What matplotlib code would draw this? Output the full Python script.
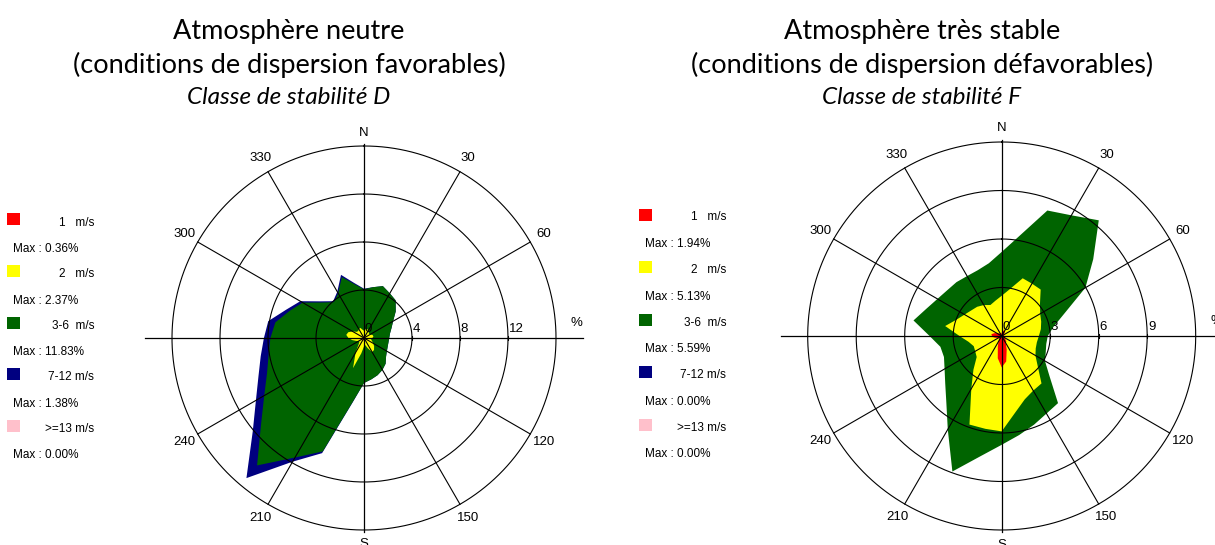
import numpy as np
import matplotlib.pyplot as plt
from matplotlib.patches import Rectangle

# wind directions (degrees from north, clockwise)
dirs = np.arange(0, 360, 10)

# Classe de stabilite D : frequency (%) per speed class and direction
d_1ms = [0.12, 0.12, 0.12, 0.12, 0.12, 0.12, 0.12, 0.12, 0.12, 0.12, 0.12, 0.12,
         0.12, 0.12, 0.12, 0.12, 0.12, 0.12, 0.12, 0.15, 0.30, 0.15, 0.12, 0.12,
         0.12, 0.12, 0.12, 0.12, 0.12, 0.12, 0.12, 0.12, 0.12, 0.12, 0.12, 0.12]
d_2ms = [0.48, 0.63, 0.68, 0.58, 0.48, 0.43, 0.48, 0.63, 0.68, 0.58, 0.48, 0.58,
         0.78, 0.98, 1.18, 1.23, 0.78, 0.48, 0.58, 1.15, 2.37, 1.25, 0.58, 0.38,
         0.38, 0.58, 0.88, 1.18, 1.38, 1.28, 0.98, 0.68, 0.63, 0.73, 0.78, 0.58]
d_36ms = [3.46, 3.55, 3.80, 3.60, 3.50, 2.90, 2.20, 1.69, 1.40, 1.40, 1.47, 1.40,
          1.30, 1.30, 1.50, 1.72, 2.40, 2.90, 3.05, 4.10, 7.39, 10.10, 13.16, 10.70,
          9.10, 7.90, 7.07, 6.50, 6.00, 5.20, 4.80, 3.80, 3.15, 3.45, 4.50, 3.85]
d_712ms = [0.05, 0.00, 0.00, 0.00, 0.00, 0.00, 0.00, 0.00, 0.00, 0.00, 0.00, 0.00,
           0.00, 0.00, 0.00, 0.00, 0.00, 0.00, 0.00, 0.05, 0.15, 0.40, 1.38, 0.90,
           0.80, 0.76, 0.67, 0.54, 0.60, 0.30, 0.23, 0.15, 0.10, 0.15, 0.20, 0.10]
d_13ms = [0.0] * 36
d_max = ['0.36', '2.37', '11.83', '1.38', '0.00']

# Classe de stabilite F
f_1ms = [0.20, 0.30, 0.35, 0.40, 0.30, 0.20, 0.15, 0.15, 0.15, 0.15, 0.15, 0.20,
         0.25, 0.30, 0.45, 0.50, 0.90, 1.60, 1.94, 1.40, 0.70, 0.40, 0.25, 0.20,
         0.25, 0.35, 0.50, 0.60, 0.65, 0.50, 0.35, 0.25, 0.20, 0.20, 0.15, 0.15]
f_2ms = [2.29, 2.65, 3.45, 3.34, 3.45, 2.89, 2.60, 2.45, 2.31, 2.15, 2.06, 2.04,
         2.16, 2.61, 3.38, 3.40, 3.27, 3.21, 3.96, 4.43, 5.13, 3.36, 2.47, 1.82,
         1.64, 1.49, 1.58, 2.01, 2.90, 2.47, 2.30, 2.21, 2.16, 2.01, 1.89, 2.07]
f_36ms = [2.71, 3.33, 4.46, 4.88, 5.59, 4.30, 3.23, 1.55, 0.79, 0.55, 0.59, 0.66,
          0.68, 0.95, 1.59, 1.64, 1.67, 1.41, 0.83, 1.72, 3.09, 2.91, 2.61, 2.54,
          2.19, 1.96, 1.77, 1.85, 1.99, 1.98, 1.94, 1.94, 1.99, 2.07, 2.29, 2.35]
f_712ms = [0.0] * 36
f_13ms = [0.0] * 36
f_max = ['1.94', '5.13', '5.59', '0.00', '0.00']

classes = ['1   m/s', '2   m/s', '3-6  m/s', '7-12 m/s', '>=13 m/s']
colors = ['#ff0000', '#ffff00', '#006400', '#000080', '#ffc0cb']

W, H = 1215, 545
fig = plt.figure(figsize=(W / 100, H / 100), dpi=100)
small = dict(family='Liberation Sans', color='black')


def fx(x):
    return x / W


def fy(y):
    return 1 - y / H


def rose(cx, cy, rpx, rmax, step, data):
    ax = fig.add_axes([fx(cx - rpx), fy(cy + rpx), 2 * rpx / W, 2 * rpx / H],
                      projection='polar')
    ax.set_theta_zero_location('N')
    ax.set_theta_direction(-1)
    ax.set_ylim(0, rmax)
    ax.axis('off')

    th = np.deg2rad(np.append(dirs, dirs[0]))
    cum = np.cumsum(np.array(data), axis=0)
    # outer classes first, so the slower ones lie on top
    for i in range(len(colors) - 1, -1, -1):
        if i > 0 and np.allclose(cum[i], cum[i - 1]):
            continue
        ax.fill(th, np.append(cum[i], cum[i][0]), color=colors[i], lw=0,
                zorder=1)

    circ = np.linspace(0, 2 * np.pi, 400)
    for r in np.arange(step, rmax + 0.01, step):
        ax.plot(circ, np.full_like(circ, r), color='black', lw=0.8, zorder=3,
                clip_on=False)
    for a in range(30, 360, 30):
        if a % 90:
            ax.plot([np.deg2rad(a)] * 2, [0, rmax], color='black', lw=0.8,
                    zorder=3, clip_on=False)
            ax.text(np.deg2rad(a), rmax * 1.08, str(a), ha='center',
                    va='center', size=9.5, **small)
    ax.plot([0, np.pi], [rmax * 1.01, rmax * 1.01], color='black', lw=0.9,
            clip_on=False, zorder=3)
    ax.plot([np.pi / 2, 3 * np.pi / 2], [rmax * 1.14, rmax * 1.14],
            color='black', lw=0.9, clip_on=False, zorder=3)
    ax.text(0, rmax * 1.07, 'N', ha='center', va='center', size=9.5, **small)
    ax.text(np.pi, rmax * 1.075, 'S', ha='center', va='center', size=9.5,
            clip_on=False, **small)
    for r in np.arange(0, rmax, step):
        ax.plot([np.pi / 2], [r], marker='|', ms=3, color='black', mew=0.8,
                zorder=3)
        ax.annotate('%g' % r, xy=(np.pi / 2, r), xytext=(0.5, 2.5),
                    textcoords='offset points', ha='left', va='bottom',
                    size=9.5, **small)
    ax.annotate('%', xy=(np.pi / 2, rmax * 1.105), xytext=(0, 11),
                textcoords='offset points', ha='center', va='center',
                size=9.5, annotation_clip=False, **small)
    return ax


rose(364, 338, 192, 16, 4, [d_1ms, d_2ms, d_36ms, d_712ms, d_13ms])
rose(1001.7, 336, 194, 12, 3, [f_1ms, f_2ms, f_36ms, f_712ms, f_13ms])


def legend(x0, y0, dy, maxima):
    for i, (lab, col, mx) in enumerate(zip(classes, colors, maxima)):
        y = y0 + i * dy
        fig.patches.append(Rectangle((fx(x0), fy(y + 4.5)), 13 / W, 12 / H,
                                     facecolor=col, edgecolor='none',
                                     transform=fig.transFigure))
        fig.text(fx(x0 + 87), fy(y + 1.5), lab, ha='right', va='center',
                 size=8.5, **small)
        fig.text(fx(x0 + 5.5), fy(y + 28), 'Max : %s%%' % mx, ha='left',
                 va='center', size=8.5, **small)


legend(7.3, 221, 51.6, d_max)
legend(639.3, 216, 52.6, f_max)

titles = [(289, 'Atmosphère neutre', '(conditions de dispersion favorables)',
           'Classe de stabilité D'),
          (922, 'Atmosphère très stable', '(conditions de dispersion défavorables)',
           'Classe de stabilité F')]
for x, t1, t2, t3 in titles:
    fig.text(fx(x), fy(31), t1, ha='center', va='center', family='Lato', size=19.5)
    fig.text(fx(x), fy(65), t2, ha='center', va='center', family='Lato', size=19.5)
    fig.text(fx(x), fy(98), t3, ha='center', va='center', family='Lato',
             style='italic', size=17.5)

fig.savefig('out.png', dpi=100)
